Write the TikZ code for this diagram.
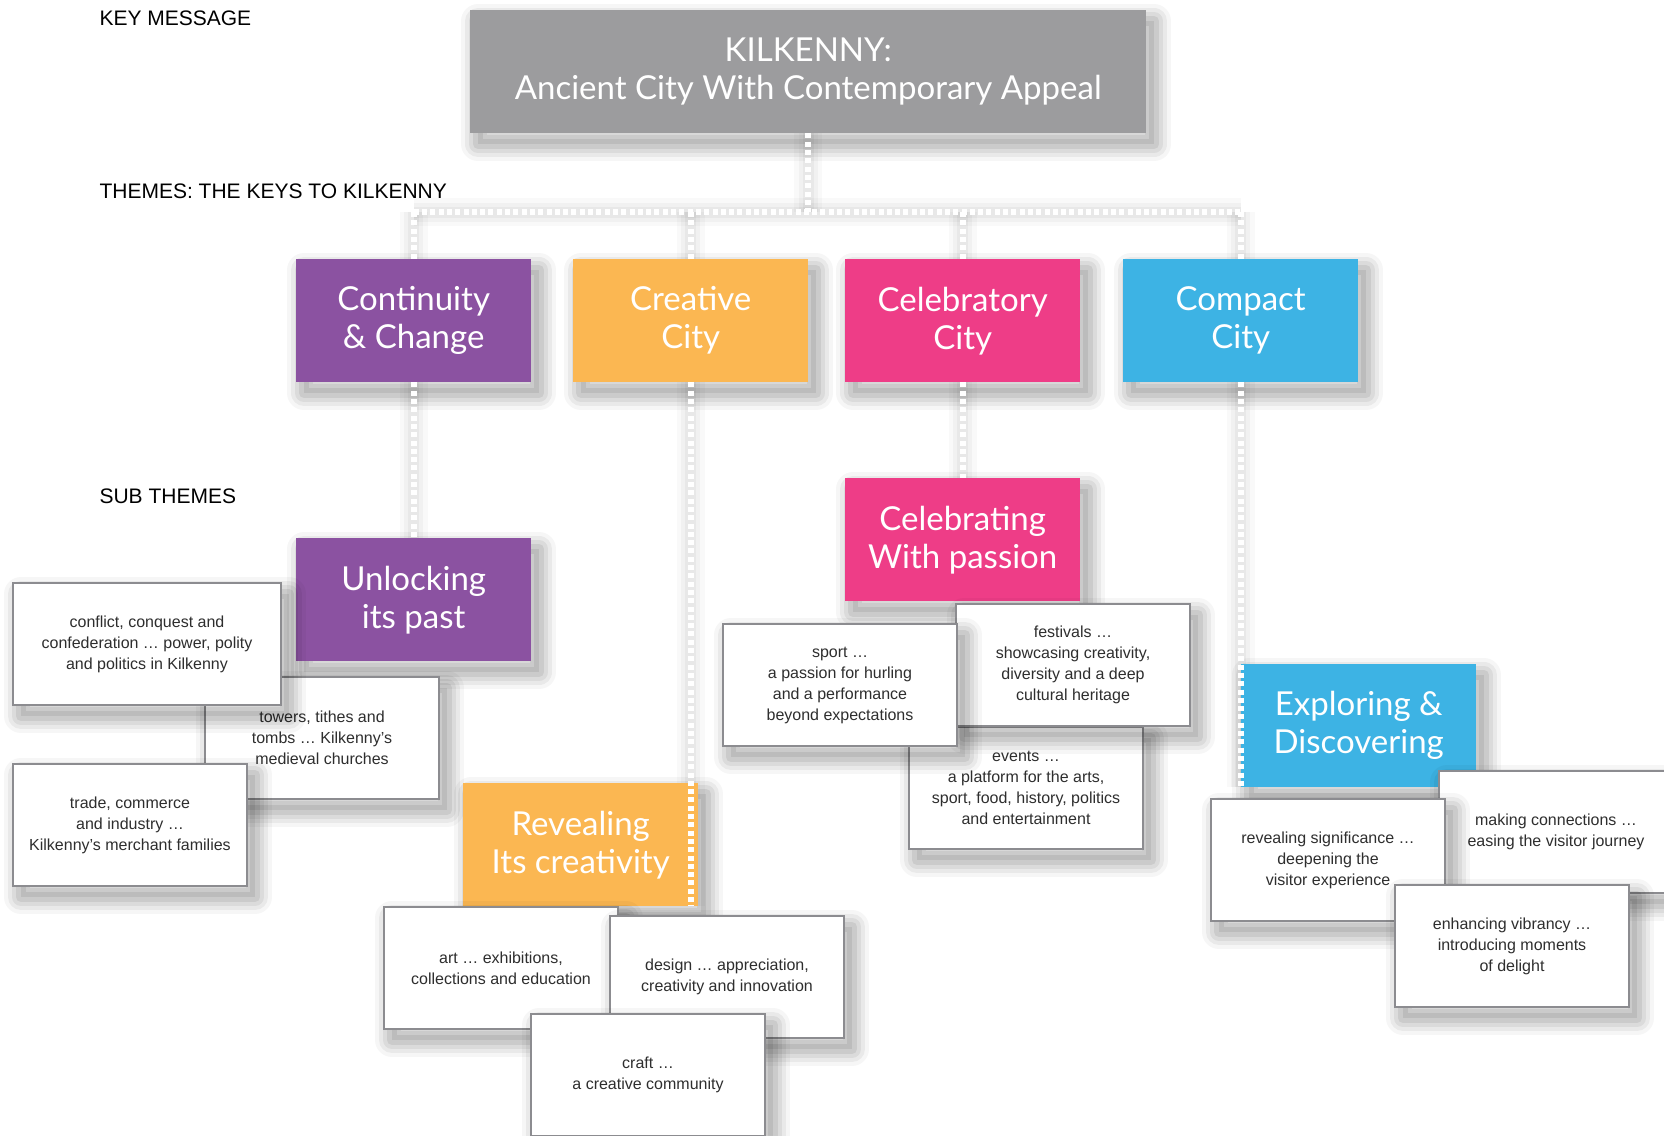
\documentclass[tikz,border=0pt]{standalone}
\usepackage{fontspec}
\setmainfont{Liberation Sans}
\newfontfamily\hand{Lato}
\pgfdeclarelayer{bg}
\pgfdeclarelayer{glow}
\pgfsetlayers{bg,glow,main}
\definecolor{kgray}{HTML}{9C9C9E}
\definecolor{kpurple}{HTML}{8B52A1}
\definecolor{korange}{HTML}{FBB752}
\definecolor{kpink}{HTML}{EE3D87}
\definecolor{kblue}{HTML}{3DB3E4}
\definecolor{kborder}{HTML}{8C8C90}
\definecolor{ktext}{HTML}{2E2E2E}
\begin{document}
\begin{tikzpicture}[x=1pt,y=-1pt,
  sh/.style={
    preaction={draw=black,opacity=0.035,line width=34pt,line join=round,transform canvas={xshift=8pt,yshift=-11pt}},
    preaction={draw=black,opacity=0.05,line width=26pt,line join=round,transform canvas={xshift=8pt,yshift=-11pt}},
    preaction={draw=black,opacity=0.06,line width=18pt,line join=round,transform canvas={xshift=8pt,yshift=-11pt}},
    preaction={draw=black,opacity=0.07,line width=10pt,line join=round,transform canvas={xshift=8pt,yshift=-11pt}},
    preaction={fill=black,opacity=0.07,transform canvas={xshift=8pt,yshift=-11pt}}},
  colbox/.style={sh,anchor=north west,inner sep=0pt,minimum width=235pt,minimum height=123pt,align=center,text=white,font=\hand\fontsize{33}{38}\selectfont},
  wbox/.style={sh,anchor=north west,draw=kborder,line width=2pt,fill=white,inner sep=0pt,minimum width=234pt,minimum height=122pt,align=center,text=ktext,font=\fontsize{16}{21}\selectfont},
  hdr/.style={anchor=west,font=\fontsize{21}{24}\selectfont,text=black},
  connglowa/.style={line width=28pt,draw=black,opacity=0.025},
  connglowb/.style={line width=19pt,draw=black,opacity=0.03},
  connglowc/.style={line width=11pt,draw=black,opacity=0.035},
  conn/.style={line width=6pt,draw=white,dash pattern=on 5pt off 3.3pt}]
\useasboundingbox (0,0) rectangle (1664,1135);
\begin{pgfonlayer}{bg}
\fill[white] (0,0) rectangle (1664,1135);
\end{pgfonlayer}

% headers
\node[hdr] (h1) at (96,18) {KEY MESSAGE};
\node[hdr] (h2) at (96,191) {THEMES: THE KEYS TO KILKENNY};
\node[hdr] (h3) at (96,496) {SUB THEMES};

% key message
\node[colbox,fill=kgray,minimum width=676pt] (top) at (470,10) {KILKENNY:\\Ancient City With Contemporary Appeal};

% themes
\node[colbox,fill=kpurple] (cont) at (296,259) {Continuity\\\& Change};
\node[colbox,fill=korange] (crea) at (573,259) {Creative\\City};
\node[colbox,fill=kpink] (celb) at (845,259) {Celebratory\\City};
\node[colbox,fill=kblue] (comp) at (1123,259) {Compact\\City};

% sub themes
\node[colbox,fill=kpurple] (unl) at (296,538) {Unlocking\\its past};
\node[colbox,fill=kpink] (cwp) at (845,478) {Celebrating\\With passion};
\node[colbox,fill=kblue] (exp) at (1241,664) {Exploring \&\\Discovering};

% continuity cards
\node[wbox] (towers) at (204,676) {towers, tithes and\\tombs … Kilkenny’s\\medieval churches};
\node[wbox,minimum width=268pt] (conflict) at (12,582) {conflict, conquest and\\confederation … power, polity\\and politics in Kilkenny};
\node[wbox] (trade) at (12,763) {trade, commerce\\and industry …\\Kilkenny’s merchant families};

% revealing
\node[colbox,fill=korange] (rev) at (463,783) {Revealing\\Its creativity};
\node[wbox] (art) at (383,906) {art … exhibitions,\\collections and education};
\node[wbox] (design) at (609,915) {design … appreciation,\\creativity and innovation};
\node[wbox] (craft) at (530,1013) {craft …\\a creative community};

% celebrating cards
\node[wbox] (events) at (908,726) {events …\\a platform for the arts,\\sport, food, history, politics\\and entertainment};
\node[wbox] (festivals) at (955,603) {festivals …\\showcasing creativity,\\diversity and a deep\\cultural heritage};
\node[wbox] (sport) at (722,623) {sport …\\a passion for hurling\\and a performance\\beyond expectations};

% exploring cards
\node[wbox] (making) at (1438,770) {making connections …\\easing the visitor journey};
\node[wbox] (revsig) at (1210,798) {revealing significance …\\deepening the\\visitor experience};
\node[wbox] (enh) at (1394,884) {enhancing vibrancy …\\introducing moments\\of delight};

% bus coordinates
\coordinate (busc) at (top.south |- 0,212);
\coordinate (busl) at (cont.north |- busc);
\coordinate (busr) at (comp.north |- busc);

\begin{pgfonlayer}{glow}
\foreach \g in {connglowa,connglowb,connglowc}{
\draw[\g] (top.south) -- (busc);
\draw[\g] (busl) -- (busr);
\foreach \t in {cont,crea,celb,comp}{\draw[\g] (\t.north |- busc) -- (\t.north);}
\draw[\g] (cont.south) -- (unl.north);
\draw[\g] (celb.south) -- (cwp.north);
\draw[\g] (crea.south) -- (crea.south |- rev.south);
\draw[\g] (comp.south) -- (comp.south |- exp.south);
}
\end{pgfonlayer}

\draw[conn] (top.south) -- (busc);
\draw[conn] (busl) -- (busr);
\foreach \t in {cont,crea,celb,comp}{\draw[conn] (\t.north |- busc) -- (\t.north);}
\draw[conn] (cont.south) -- (unl.north);
\draw[conn] (celb.south) -- (cwp.north);
\draw[conn] (crea.south) -- (crea.south |- rev.south);
\draw[conn] (comp.south) -- (comp.south |- exp.south);
\end{tikzpicture}
\end{document}
